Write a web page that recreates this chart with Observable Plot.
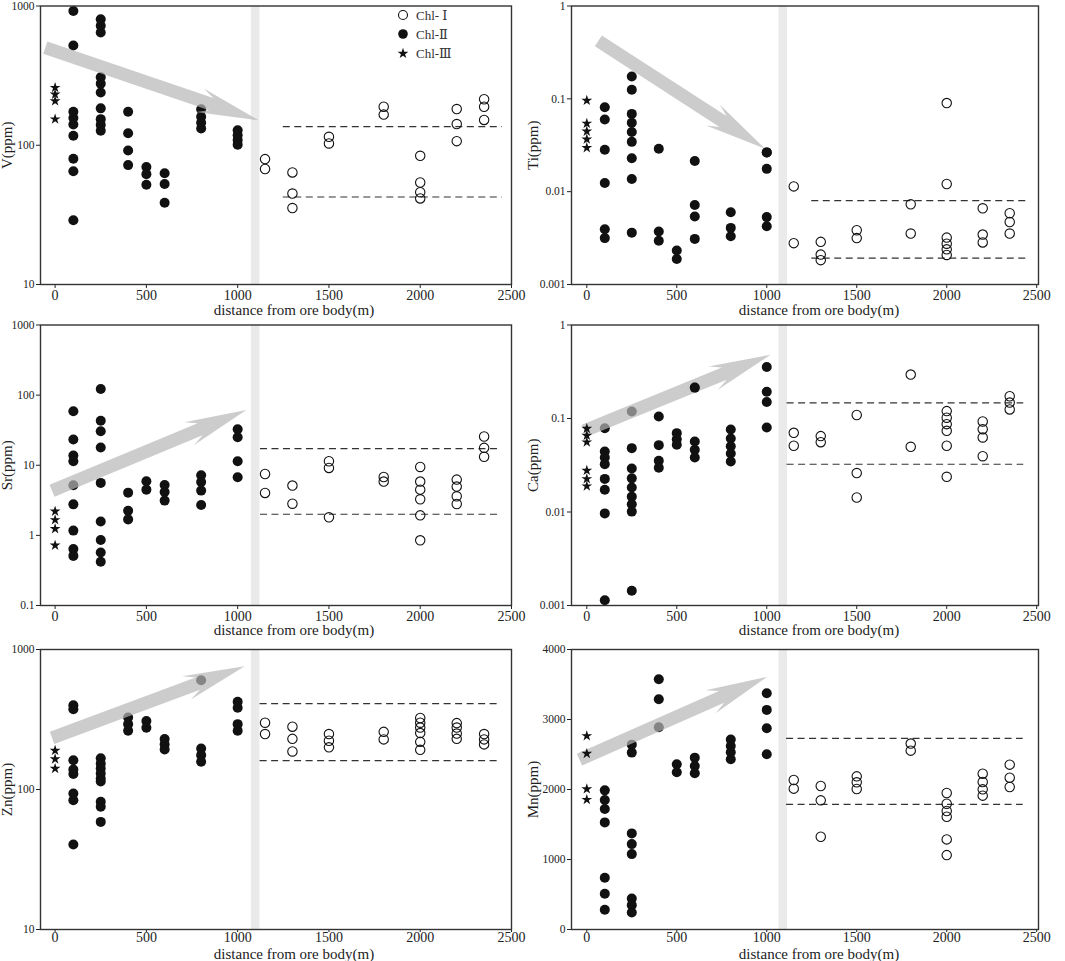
<!DOCTYPE html>
<html>
<head>
<meta charset="utf-8">
<script src="https://cdn.jsdelivr.net/npm/d3@7"></script>
<script src="https://cdn.jsdelivr.net/npm/@observablehq/plot@0.6"></script>
<style>
  html, body { margin: 0; padding: 0; background: #fff; }
  #wrap { position: relative; width: 1065px; height: 961px; overflow: hidden; background: #fff;
          font-family: 'Liberation Serif', 'DejaVu Serif', serif; }
  .cell { position: absolute; }
  .cell svg { overflow: visible; background: transparent !important; }
  [aria-label^="x-axis"] text { font-size: 14px; }
  [aria-label^="y-axis"] text { font-size: 11.5px; }
</style>
</head>
<body>
<div id="wrap"></div>
<script>
// ---------- shared ----------
const X_TICKS = [0, 500, 1000, 1500, 2000, 2500];
const X_LABEL = "distance from ore body(m)";
const LEGEND = ["Chl- Ⅰ", "Chl-Ⅱ", "Chl-Ⅲ"];

// ---------- V ----------
const V_III = [[0, [259, 232, 208, 154]]];
const V_II = [[100, [921, 521, 174, 157, 141, 117, 80, 65, 28.9]], [250, [803, 720, 646, 308, 277, 239, 184, 154, 140, 127]],
  [400, [174, 122, 91.6, 72]], [500, [69.7, 62, 52]], [600, [63, 52.7, 38.6]], [800, [181, 160, 145, 132]], [1000, [128, 118, 109, 101]]];
const V_I = [[1150, [79.5, 67.5]], [1300, [63.8, 45, 35.4]], [1500, [115, 103]], [1800, [189, 166]],
  [2000, [84, 54, 46, 41.5]], [2200, [182, 142, 107]], [2350, [214, 189, 152]]];
const V_DASH = [136, 42.5], V_DASH_X = [1250, 2450];
const V_ARROW = [[-51, 499], [1117, 150]];

// ---------- Ti ----------
const TI_III = [[0, [0.096, 0.0543, 0.0447, 0.0367, 0.0297]]];
const TI_II = [[100, [0.081, 0.0598, 0.0283, 0.0124, 0.00393, 0.00316]], [250, [0.174, 0.125, 0.0688, 0.0552, 0.0439, 0.0344, 0.0229, 0.0137, 0.00362]],
  [400, [0.029, 0.00372, 0.00296]], [500, [0.00232, 0.00188]], [600, [0.0214, 0.0072, 0.0054, 0.0031]],
  [800, [0.006, 0.00407, 0.00331]], [1000, [0.0265, 0.0176, 0.00532, 0.00424]]];
const TI_I = [[1150, [0.0114, 0.00279]], [1300, [0.00288, 0.0021, 0.00183]], [1500, [0.00384, 0.00316]], [1800, [0.00731, 0.00354]],
  [2000, [0.09, 0.0121, 0.0032, 0.00275, 0.00239, 0.00208]], [2200, [0.00662, 0.00345, 0.00284]], [2350, [0.00586, 0.00471, 0.00354]]];
const TI_DASH = [0.0080, 0.00192], TI_DASH_X = [1250, 2445];
const TI_ARROW = [[67, 0.416], [993, 0.0287]];
const TI_OVER = [[1000, [0.0265]]];

// ---------- Sr ----------
const SR_III = [[0, [2.2, 1.66, 1.24, 0.72]]];
const SR_II = [[100, [59, 23.3, 13.8, 11.4, 5.18, 2.77, 1.17, 0.64, 0.51]], [250, [122, 43, 30.6, 17.9, 5.6, 1.58, 0.86, 0.57, 0.42]],
  [400, [4.07, 2.25, 1.69]], [500, [5.9, 4.49]], [600, [5.24, 4.16, 3.13]], [800, [7.2, 5.78, 4.35, 2.71]], [1000, [32.7, 25.1, 11.4, 6.74]]];
const SR_I = [[1150, [7.5, 4.03]], [1300, [5.13, 2.83]], [1500, [11.4, 9.16, 1.81]], [1800, [6.8, 5.85]],
  [2000, [9.46, 5.85, 4.49, 3.27, 1.93, 0.85]], [2200, [6.24, 4.96, 3.61, 2.8]], [2350, [25.7, 17.7, 13.2]]];
const SR_DASH = [17.3, 2.0], SR_DASH_X = [1125, 2435];
const SR_ARROW = [[-14, 4.25], [1050, 60.4]];

// ---------- Ca ----------
const CA_III = [[0, [0.078, 0.0658, 0.0558, 0.0278, 0.0226, 0.0189]]];
const CA_II = [[100, [0.0788, 0.0444, 0.0383, 0.0325, 0.0226, 0.0173, 0.00966, 0.00114]],
  [250, [0.119, 0.0482, 0.0292, 0.0229, 0.0183, 0.0146, 0.0121, 0.0101, 0.00144]],
  [400, [0.105, 0.0519, 0.0353, 0.0297]], [500, [0.0697, 0.0601, 0.0523]], [600, [0.214, 0.0567, 0.0462, 0.0383]],
  [800, [0.0762, 0.0611, 0.0506, 0.0423, 0.0347]], [1000, [0.356, 0.193, 0.15, 0.0801]]];
const CA_I = [[1150, [0.0703, 0.0511]], [1300, [0.0648, 0.0558]], [1500, [0.109, 0.0261, 0.0143]], [1800, [0.295, 0.0498]],
  [2000, [0.12, 0.102, 0.087, 0.0738, 0.0511, 0.0238]], [2200, [0.093, 0.0769, 0.0627, 0.0395]], [2350, [0.173, 0.148, 0.125]]];
const CA_DASH = [0.147, 0.0324], CA_DASH_X = [1113, 2428];
const CA_ARROW = [[-11, 0.073], [1024, 0.475]];
const CA_OVER = [[600, [0.214]]];

// ---------- Zn ----------
const ZN_III = [[0, [190, 165, 141]]];
const ZN_II = [[100, [399, 374, 162, 139, 129, 93.6, 83.9, 40.5]], [250, [167, 153, 141, 130, 120, 114, 81.6, 75.2, 58.7]],
  [400, [327, 293, 263]], [500, [308, 276]], [600, [229, 210, 193]], [800, [603, 196, 176, 158]], [1000, [424, 384, 293, 263]]];
const ZN_I = [[1150, [300, 249]], [1300, [281, 230, 187]], [1500, [249, 223, 200]], [1800, [258, 228]],
  [2000, [324, 300, 277, 253, 219, 192]], [2200, [298, 277, 251, 230]], [2350, [249, 228, 210]]];
const ZN_DASH = [410, 161], ZN_DASH_X = [1123, 2436];
const ZN_ARROW = [[-14, 232], [1041, 753]];

// ---------- Mn ----------
const MN_III = [[0, [2765, 2513, 2007, 1855]]];
const MN_II = [[100, [1988, 1850, 1721, 1530, 739, 510, 281]], [250, [2641, 2527, 1373, 1220, 1077, 443, 348, 243]],
  [400, [3576, 3290, 2889]], [500, [2360, 2246]], [600, [2455, 2336, 2231]], [800, [2713, 2622, 2532, 2431]], [1000, [3375, 3137, 2875, 2503]]];
const MN_I = [[1150, [2136, 2012]], [1300, [2050, 1845, 1325]], [1500, [2188, 2103, 2007]], [1800, [2656, 2555]],
  [2000, [1950, 1797, 1693, 1611, 1287, 1063]], [2200, [2226, 2107, 2002, 1912]], [2350, [2355, 2169, 2036]]];
const MN_DASH = [2731, 1788], MN_DASH_X = [1110, 2425];
const MN_ARROW = [[-38, 2420], [1006, 3604]];

// band (gap between groups)
const BAND_LEFT = [1075, 1122];
const BAND_RIGHT = [1068, 1115];

// ---------- helpers ----------
const flat = groups => groups.flatMap(([x, ys]) => ys.map(y => ({x, y})));

function arrowMark(arrow) {
  return (index, scales) => {
    const [[x1, y1], [x2, y2]] = arrow;
    const sx = scales.x(x1), sy = scales.y(y1), tx = scales.x(x2), ty = scales.y(y2);
    const len = Math.hypot(tx - sx, ty - sy);
    const ux = (tx - sx) / len, uy = (ty - sy) / len;
    const nx = -uy, ny = ux;
    const h = 6.5, notch = 50, back = 62, bw = 12.5;
    const P = [
      [sx + nx * h, sy + ny * h],
      [tx - ux * notch + nx * h, ty - uy * notch + ny * h],
      [tx - ux * back + nx * bw, ty - uy * back + ny * bw],
      [tx, ty],
      [tx - ux * back - nx * bw, ty - uy * back - ny * bw],
      [tx - ux * notch - nx * h, ty - uy * notch - ny * h],
      [sx - nx * h, sy - ny * h]
    ];
    const path = document.createElementNS("http://www.w3.org/2000/svg", "path");
    path.setAttribute("d", "M" + P.map(p => p.join(",")).join("L") + "Z");
    path.setAttribute("fill", "#b7b7b7");
    path.setAttribute("fill-opacity", "0.7");
    return path;
  };
}

function panel(o) {
  const isRight = o.col === 1;
  const rows = [
    {top: 0, height: 320, mt: 5.5, mb: 36, dy: 26, ts: 4, tp: 2},
    {top: 320, height: 320, mt: 4.5, mb: 35, dy: 25, ts: 4, tp: 2},
    {top: 640, height: 321, mt: 9, mb: 32, dy: 25, ts: 3, tp: 0}
  ];
  const r = rows[o.row];
  const width = isRight ? 535 : 530;
  const dash = o.dash.map(y => ({y, x1: o.dashX[0], x2: o.dashX[1]}));
  const band = [isRight ? BAND_RIGHT : BAND_LEFT];
  const marks = [
    Plot.rect(band, {x1: d => d[0], x2: d => d[1], fill: "#eaeaea"}),
    Plot.ruleY(dash, {y: "y", x1: "x1", x2: "x2", stroke: "#333", strokeWidth: 1.2, strokeDasharray: "7,4.5"}),
    Plot.dot(flat(o.II), {x: "x", y: "y", r: 5, fill: "#111", stroke: "none"}),
    Plot.dot(flat(o.I), {x: "x", y: "y", r: 4.7, fill: "none", stroke: "#111", strokeWidth: 1.1}),
    arrowMark(o.arrow)
  ];
  if (o.over) marks.push(Plot.dot(flat(o.over), {x: "x", y: "y", r: 5, fill: "#111", stroke: "none"}));
  marks.push(
    Plot.dot(flat(o.III), {x: "x", y: "y", r: 3.4, symbol: "star", fill: "#111", stroke: "none"}),
    Plot.frame({stroke: "#333", strokeWidth: 1.4}),
    Plot.text([o.yLabel], {text: d => d, frameAnchor: "left", textAnchor: "middle", lineAnchor: "middle",
      dx: isRight ? -38 : -33, rotate: -90, fontSize: 15, fill: "#222"}),
    Plot.text([X_LABEL], {text: d => d, frameAnchor: "bottom", textAnchor: "middle", lineAnchor: "middle",
      dy: r.dy, dx: isRight ? 14 : 18, fontSize: 15, fill: "#222"})
  );
  const svg = Plot.plot({
    width, height: r.height,
    marginLeft: isRight ? 41 : 40,
    marginRight: isRight ? 27 : 19,
    marginTop: r.mt, marginBottom: r.mb,
    style: {fontFamily: "'Liberation Serif', 'DejaVu Serif', serif", color: "#222", background: "transparent"},
    x: {domain: isRight ? [-85, 2510] : [-80, 2500], ticks: X_TICKS, tickFormat: d => String(d),
        tickSize: r.ts, tickPadding: r.tp, label: null},
    y: {type: o.yType || "log", domain: o.yDomain, ticks: o.yTicks, tickFormat: d => String(d),
        tickSize: 4, tickPadding: 2, label: null},
    marks
  });
  const cell = document.createElement("div");
  cell.className = "cell";
  cell.style.left = (isRight ? 530 : 0) + "px";
  cell.style.top = r.top + "px";
  cell.appendChild(svg);
  document.getElementById("wrap").appendChild(cell);
}

panel({col: 0, row: 0, I: V_I, II: V_II, III: V_III, dash: V_DASH, dashX: V_DASH_X, arrow: V_ARROW,
  yDomain: [10, 1000], yTicks: [10, 100, 1000], yLabel: "V(ppm)"});
panel({col: 1, row: 0, I: TI_I, II: TI_II, III: TI_III, dash: TI_DASH, dashX: TI_DASH_X, arrow: TI_ARROW, over: TI_OVER,
  yDomain: [0.001, 1], yTicks: [0.001, 0.01, 0.1, 1], yLabel: "Ti(ppm)"});
panel({col: 0, row: 1, I: SR_I, II: SR_II, III: SR_III, dash: SR_DASH, dashX: SR_DASH_X, arrow: SR_ARROW,
  yDomain: [0.1, 1000], yTicks: [0.1, 1, 10, 100, 1000], yLabel: "Sr(ppm)"});
panel({col: 1, row: 1, I: CA_I, II: CA_II, III: CA_III, dash: CA_DASH, dashX: CA_DASH_X, arrow: CA_ARROW, over: CA_OVER,
  yDomain: [0.001, 1], yTicks: [0.001, 0.01, 0.1, 1], yLabel: "Ca(ppm)"});
panel({col: 0, row: 2, I: ZN_I, II: ZN_II, III: ZN_III, dash: ZN_DASH, dashX: ZN_DASH_X, arrow: ZN_ARROW,
  yDomain: [10, 1000], yTicks: [10, 100, 1000], yLabel: "Zn(ppm)"});
panel({col: 1, row: 2, I: MN_I, II: MN_II, III: MN_III, dash: MN_DASH, dashX: MN_DASH_X, arrow: MN_ARROW,
  yType: "linear", yDomain: [0, 4000], yTicks: [0, 1000, 2000, 3000, 4000], yLabel: "Mn(ppm)"});

// ---------- legend (top-left panel) ----------
(function legend() {
  const ns = "http://www.w3.org/2000/svg";
  const svg = document.createElementNS(ns, "svg");
  svg.setAttribute("width", 120); svg.setAttribute("height", 70);
  svg.style.position = "absolute"; svg.style.left = "390px"; svg.style.top = "0px"; svg.style.overflow = "visible";
  const ys = [15, 34, 53.5];
  const star = d3.symbol(d3.symbolStar, 36)();
  LEGEND.forEach((label, i) => {
    let el;
    if (i === 0) {
      el = document.createElementNS(ns, "circle");
      el.setAttribute("cx", 13); el.setAttribute("cy", ys[i]); el.setAttribute("r", 4.5);
      el.setAttribute("fill", "none"); el.setAttribute("stroke", "#111"); el.setAttribute("stroke-width", 1.1);
    } else if (i === 1) {
      el = document.createElementNS(ns, "circle");
      el.setAttribute("cx", 13); el.setAttribute("cy", ys[i]); el.setAttribute("r", 4.8);
      el.setAttribute("fill", "#111");
    } else {
      el = document.createElementNS(ns, "path");
      el.setAttribute("d", star); el.setAttribute("transform", `translate(13,${ys[i]})`);
      el.setAttribute("fill", "#111");
    }
    svg.appendChild(el);
    const t = document.createElementNS(ns, "text");
    t.setAttribute("x", 26); t.setAttribute("y", ys[i]); t.setAttribute("dy", "0.35em");
    t.setAttribute("font-size", 13); t.setAttribute("fill", "#333");
    t.setAttribute("font-family", "'Liberation Serif', 'DejaVu Serif', serif");
    t.textContent = label;
    svg.appendChild(t);
  });
  document.getElementById("wrap").appendChild(svg);
})();
</script>
</body>
</html>
